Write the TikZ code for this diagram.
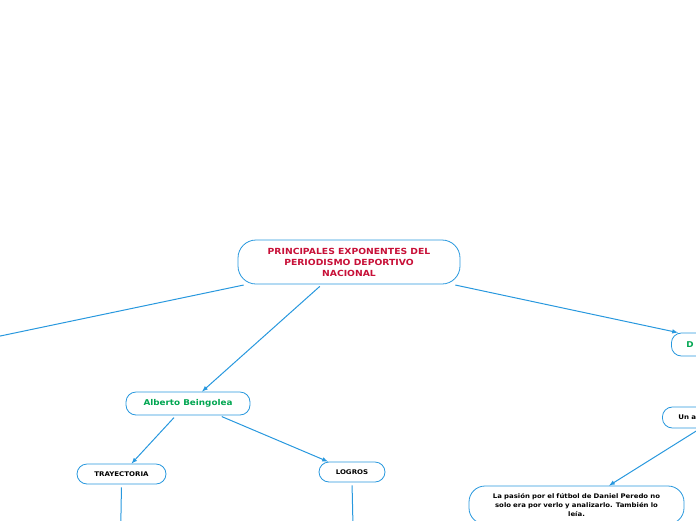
\documentclass[tikz,border=0pt]{standalone}
\usepackage{fontspec}
\setmainfont{DejaVu Sans}[FakeStretch=1.1]
\usetikzlibrary{positioning,calc}
\definecolor{branch}{RGB}{40,152,222}
\definecolor{title}{RGB}{200,16,56}
\definecolor{person}{RGB}{0,166,81}
\tikzstyle{topic}=[draw=branch, line width=.8pt, fill=white, rounded corners=10pt, inner sep=0pt, align=center, font=\bfseries\fontsize{6.4}{9}\selectfont]
\tikzset{link/.style={-latex, draw=branch, line width=1pt, shorten <=3pt}}
\tikzset{y=-1pt}
\tikzset{x=1pt}

\begin{document}
\begin{tikzpicture}
  \useasboundingbox (0,0) rectangle (696,520);
  \clip (0,0) rectangle (696,520);

  \draw (349,262) node[topic, minimum width=222, minimum height=44, rounded corners=18pt, text=title, font=\bfseries\fontsize{8.4}{11}\selectfont] (root) {PRINCIPALES EXPONENTES DEL\\PERIODISMO DEPORTIVO\\NACIONAL};

  \draw (188,403.5) node[topic, minimum width=124, minimum height=23, text=person, font=\bfseries\fontsize{8}{10}\selectfont] (P1) {Alberto Beingolea};
  \draw (671,344.5) node[topic, anchor=west, minimum height=23, text width=70, inner xsep=15, align=left, text=person, font=\bfseries\fontsize{8}{10}\selectfont] (P2) {D};

  \draw (121.5,474) node[topic, minimum width=89, minimum height=20] (P11) {TRAYECTORIA};
  \draw (352,472) node[topic, minimum width=66, minimum height=20] (P12) {LOGROS};

  \draw (662,417.5) node[topic, anchor=west, minimum height=21, text width=44, inner xsep=16, align=left] (P21) {Un a};
  \draw (576.5,505) node[topic, minimum width=215, minimum height=38, rounded corners=16pt, text width=190, font=\bfseries\fontsize{6.3}{9}\selectfont] (P211) {La pasión por el fútbol de Daniel Peredo no\\solo era por verlo y analizarlo. También lo\\leía.};

  % branches that leave the picture
  \coordinate (P0) at (-100,357);
  \coordinate (P111) at (120,570);
  \coordinate (P121) at (354,570);

  \draw[link] ([xshift=9]root.south west) -- (P0);
  \draw[link] ([xshift=-27]root.south) -- ([xshift=14]P1.north);
  \draw[link] ([xshift=-8]root.south east) -- ([xshift=7]P2.north west);

  \draw[link] ([xshift=-12]P1.south) -- ([xshift=10]P11.north);
  \draw[link] ([xshift=31]P1.south) -- ([xshift=-24]P12.north);
  \draw[link] (P11.south) -- (P111);
  \draw[link] (P12.south) -- (P121);

  \draw[link] (P21.south) -- ([xshift=32.5]P211.north);
\end{tikzpicture}
\end{document}
